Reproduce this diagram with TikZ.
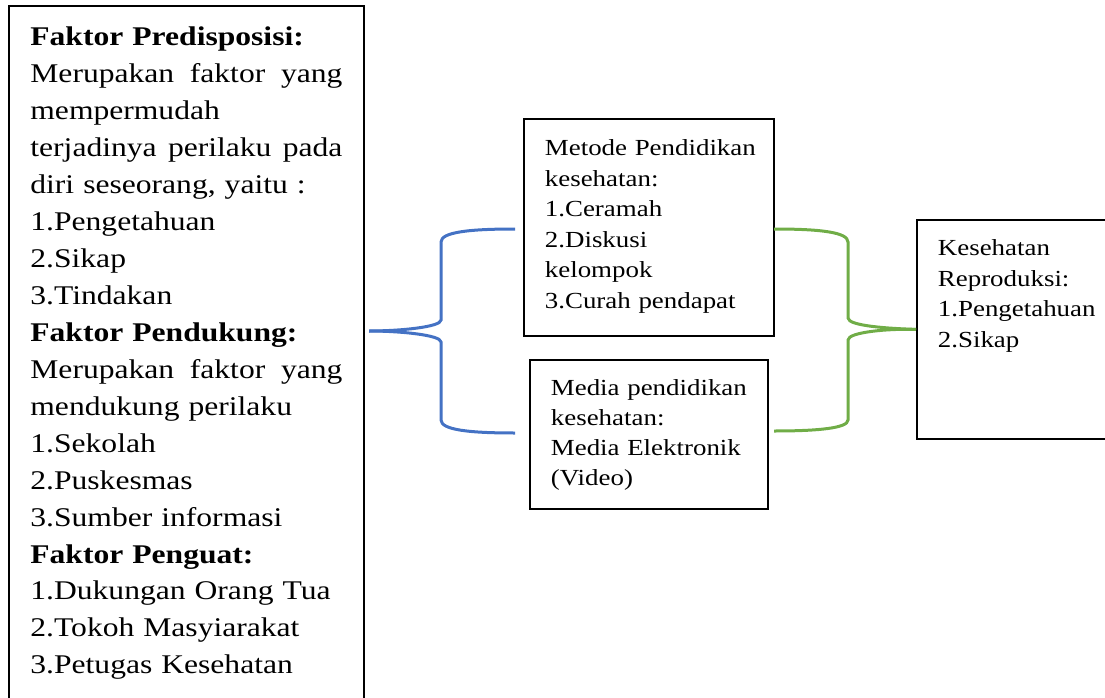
\documentclass[tikz,border=0pt]{standalone}
\usepackage{fontspec}
\setmainfont{Liberation Serif}[FakeStretch=1.17]
\usepackage{xcolor}
\usepackage{tikz}
\definecolor{braceblue}{HTML}{4472C4}
\definecolor{bracegreen}{HTML}{70AD47}

\begin{document}
\begin{tikzpicture}[
    x=1pt, y=-1pt,
    box/.style={draw, line width=1.8pt, inner ysep=0pt, inner xsep=21pt, align=left},
    bigbox/.style={box, font=\fontsize{27}{36.94}\selectfont},
    smallbox/.style={box, font=\fontsize{23}{30.5}\selectfont},
    bluebrace/.style={draw=braceblue, line width=3pt},
    greenbrace/.style={draw=bracegreen, line width=3pt}
]
\path[use as bounding box, clip] (0,0) rectangle (1105,698);

% factor box (runs past the lower edge)
\node[bigbox, anchor=north west, text width=312pt, inner xsep=21.5pt, text height=40pt, text depth=700pt] (faktor) at (8,5) {%
\textbf{Faktor Predisposisi:}\\
Merupakan\hfill faktor\hfill yang\\
mempermudah\\
terjadinya\hfill perilaku\hfill pada\\
diri seseorang, yaitu :\\
1.Pengetahuan\\
2.Sikap\\
3.Tindakan\\
\textbf{Faktor Pendukung:}\\
Merupakan\hfill faktor\hfill yang\\
mendukung perilaku\\
1.Sekolah\\
2.Puskesmas\\
3.Sumber informasi\\
\textbf{Faktor Penguat:}\\
1.Dukungan Orang Tua\\
2.Tokoh Masyiarakat\\
3.Petugas Kesehatan};

% education boxes
\node[smallbox, anchor=north west, text width=208pt, text height=37pt, text depth=180pt] (metode) at (523,118) {\mbox{Metode Pendidikan}\\kesehatan:\\1.Ceramah\\2.Diskusi\\kelompok\\3.Curah pendapat};
\node[smallbox, font=\fontsize{23}{29.8}\selectfont, anchor=north west, text width=196pt, text height=36pt, text depth=113pt] (media) at (529,359) {\mbox{Media pendidikan}\\kesehatan:\\\mbox{Media Elektronik}\\(Video)};

% outcome box (runs past the right edge)
\node[smallbox, anchor=north west, text width=200pt, text height=36pt, text depth=183pt] (repro) at (916,219) {Kesehatan\\Reproduksi:\\1.Pengetahuan\\2.Sikap};

\coordinate (bluetip) at (369,331);
\coordinate (bluetop) at (515,229);
\coordinate (bluebot) at (515,433);
\coordinate (greentop) at (774,229);
\coordinate (greenbot) at (774,431);

% braces
\draw[bluebrace] (bluetip) .. controls (400,331) and (441,327) .. (441,320) -- (441,242) .. controls (441,232) and (470,229) .. (bluetop);
\draw[bluebrace] (bluetip) .. controls (400,331) and (441,335) .. (441,342) -- (441,420) .. controls (441,430) and (470,433) .. (bluebot);
\draw[greenbrace] (greentop) .. controls (819,229) and (848,232) .. (848,242) -- (848,318) .. controls (848,326) and (889,328.5) .. (repro.west);
\draw[greenbrace] (greenbot) .. controls (819,431) and (848,428) .. (848,420) -- (848,340) .. controls (848,332) and (889,328.5) .. (repro.west);

\end{tikzpicture}
\end{document}
